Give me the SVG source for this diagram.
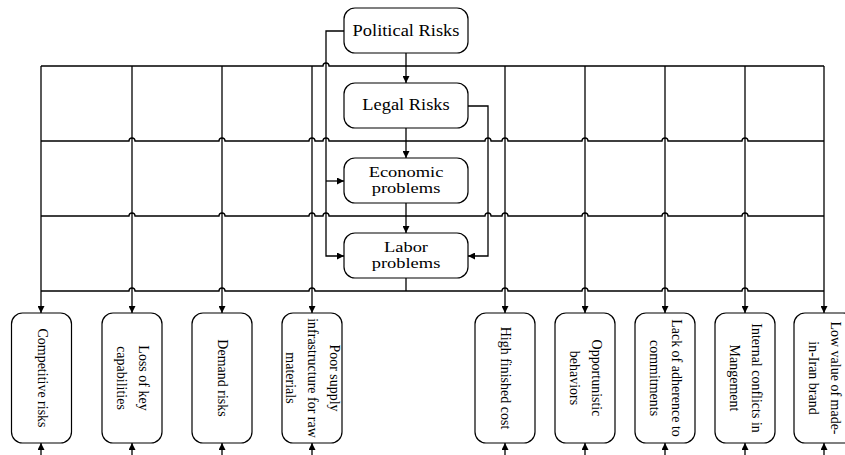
<svg xmlns="http://www.w3.org/2000/svg" width="845" height="455" viewBox="0 0 845 455">
<defs>
<marker id="ah" markerUnits="userSpaceOnUse" markerWidth="8" markerHeight="7" refX="7" refY="3.5" orient="auto">
<path d="M0,0 L7,3.5 L0,7 z" fill="#000"/>
</marker>
<style>
.box{fill:#fff;stroke:#000;stroke-width:1.2}
.ln{fill:none;stroke:#000;stroke-width:1.3}
.ar{fill:none;stroke:#000;stroke-width:1.3;marker-end:url(#ah)}
.t{font-family:"Liberation Serif","Times New Roman",serif;font-size:16px;fill:#000;text-anchor:middle}
.t2{font-family:"Liberation Serif","Times New Roman",serif;font-size:15px;fill:#000;text-anchor:middle}
.r{font-family:"Liberation Serif","Times New Roman",serif;font-size:14px;fill:#000;text-anchor:middle}
</style>
</defs>
<rect width="845" height="455" fill="#fff"/>
<g id="connectors">
<path class="ln" d="M41,66 H323 A3,3 0 0 1 329,66 H824"/>
<path class="ln" d="M41,141 H129 A3,3 0 0 1 135,141 H219 A3,3 0 0 1 225,141 H309 A3,3 0 0 1 315,141 H323 A3,3 0 0 1 329,141 H485 A3,3 0 0 1 491,141 H502 A3,3 0 0 1 508,141 H582 A3,3 0 0 1 588,141 H662 A3,3 0 0 1 668,141 H742 A3,3 0 0 1 748,141 H824"/>
<path class="ln" d="M41,216 H129 A3,3 0 0 1 135,216 H219 A3,3 0 0 1 225,216 H309 A3,3 0 0 1 315,216 H323 A3,3 0 0 1 329,216 H485 A3,3 0 0 1 491,216 H502 A3,3 0 0 1 508,216 H582 A3,3 0 0 1 588,216 H662 A3,3 0 0 1 668,216 H742 A3,3 0 0 1 748,216 H824"/>
<path class="ln" d="M41,291 H129 A3,3 0 0 1 135,291 H219 A3,3 0 0 1 225,291 H309 A3,3 0 0 1 315,291 H502 A3,3 0 0 1 508,291 H582 A3,3 0 0 1 588,291 H662 A3,3 0 0 1 668,291 H742 A3,3 0 0 1 748,291 H824"/>
<path class="ar" d="M41,66 V313"/>
<path class="ar" d="M132,66 V313"/>
<path class="ar" d="M222,66 V313"/>
<path class="ar" d="M312,66 V313"/>
<path class="ar" d="M505,66 V313"/>
<path class="ar" d="M585,66 V313"/>
<path class="ar" d="M665,66 V313"/>
<path class="ar" d="M745,66 V313"/>
<path class="ar" d="M824,66 V313"/>
<path class="ar" d="M41,455 V443"/>
<path class="ar" d="M132,455 V443"/>
<path class="ar" d="M222,455 V443"/>
<path class="ar" d="M312,455 V443"/>
<path class="ar" d="M505,455 V443"/>
<path class="ar" d="M585,455 V443"/>
<path class="ar" d="M665,455 V443"/>
<path class="ar" d="M745,455 V443"/>
<path class="ar" d="M824,455 V443"/>
<path class="ar" d="M406,53 V83"/>
<path class="ar" d="M406,128 V158"/>
<path class="ar" d="M406,203 V233"/>
<path class="ln" d="M406,278 V291"/>
<path class="ar" d="M344,31 H326 V256 H344"/>
<path class="ar" d="M326,181 H344"/>
<path class="ar" d="M468,106 H488 V256 H468"/>
</g>
<g id="political">
<rect class="box" x="344" y="8" width="124" height="45" rx="11"/>
<text class="t" transform="translate(406,36) scale(1.15,1)">Political Risks</text>
</g>
<g id="legal">
<rect class="box" x="344" y="83" width="124" height="45" rx="11"/>
<text class="t" transform="translate(406,110) scale(1.15,1)">Legal Risks</text>
</g>
<g id="economic">
<rect class="box" x="344" y="158" width="124" height="45" rx="11"/>
<text class="t2" transform="translate(406,176.5) scale(1.23,1)"><tspan x="0" y="0">Economic</tspan><tspan x="0" y="17">problems</tspan></text>
</g>
<g id="labor">
<rect class="box" x="344" y="233" width="124" height="45" rx="11"/>
<text class="t2" transform="translate(406,251.5) scale(1.23,1)"><tspan x="0" y="0">Labor</tspan><tspan x="0" y="17">problems</tspan></text>
</g>
<g id="competitive">
<rect class="box" x="11.5" y="313" width="60" height="130" rx="11"/>
<text class="r" transform="translate(41.5,378) rotate(90) scale(1,1.1)"><tspan x="0" y="3.6">Competitive risks</tspan></text>
</g>
<g id="loss">
<rect class="box" x="102" y="313" width="60" height="130" rx="11"/>
<text class="r" transform="translate(132,378) rotate(90) scale(1,1.1)"><tspan x="0" y="-6.4">Loss of key</tspan><tspan x="0" y="13.6">capabilities</tspan></text>
</g>
<g id="demand">
<rect class="box" x="192" y="313" width="60" height="130" rx="11"/>
<text class="r" transform="translate(222,378) rotate(90) scale(1,1.1)"><tspan x="0" y="3.6">Demand risks</tspan></text>
</g>
<g id="poor">
<rect class="box" x="282" y="313" width="60" height="130" rx="11"/>
<text class="r" transform="translate(312,378) rotate(90) scale(1,1.1)"><tspan x="0" y="-16.4">Poor supply</tspan><tspan x="0" y="3.6">infrastructure for raw</tspan><tspan x="0" y="23.6">materials</tspan></text>
</g>
<g id="high">
<rect class="box" x="475" y="313" width="60" height="130" rx="11"/>
<text class="r" transform="translate(505,378) rotate(90) scale(1,1.1)"><tspan x="0" y="3.6">High finished cost</tspan></text>
</g>
<g id="opportunistic">
<rect class="box" x="555" y="313" width="60" height="130" rx="11"/>
<text class="r" transform="translate(585,378) rotate(90) scale(1,1.1)"><tspan x="0" y="-6.4">Opportunistic</tspan><tspan x="0" y="13.6">behaviors</tspan></text>
</g>
<g id="lack">
<rect class="box" x="635" y="313" width="60" height="130" rx="11"/>
<text class="r" transform="translate(665,378) rotate(90) scale(1,1.1)"><tspan x="0" y="-6.4">Lack of adherence to</tspan><tspan x="0" y="13.6">commitments</tspan></text>
</g>
<g id="internal">
<rect class="box" x="715" y="313" width="60" height="130" rx="11"/>
<text class="r" transform="translate(745,378) rotate(90) scale(1,1.1)"><tspan x="0" y="-6.4">Internal conflicts in</tspan><tspan x="0" y="13.6">Mangement</tspan></text>
</g>
<g id="low">
<rect class="box" x="794" y="313" width="60" height="130" rx="11"/>
<text class="r" transform="translate(824,378) rotate(90) scale(1,1.1)"><tspan x="0" y="-6.4">Low value of made-</tspan><tspan x="0" y="13.6">in-Iran brand</tspan></text>
</g>
</svg>
